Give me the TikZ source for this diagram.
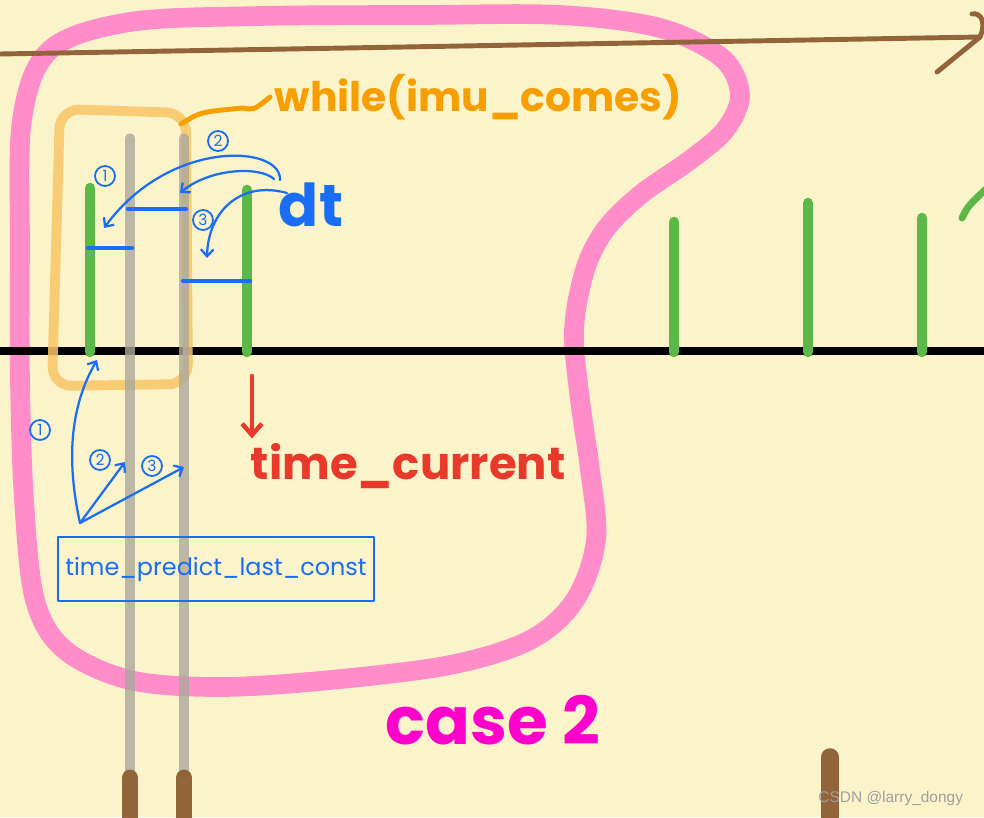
\documentclass[tikz,border=0pt]{standalone}
\usepackage{fontspec}
\newfontfamily\handfont{Poppins}
\newfontfamily\markfont{Liberation Sans}
\usetikzlibrary{arrows.meta}
\definecolor{paper}{HTML}{FBF4CB}
\definecolor{pinkloop}{HTML}{FF8DC9}
\definecolor{brownax}{HTML}{93643A}
\definecolor{greentick}{HTML}{5DB947}
\definecolor{grayline}{HTML}{ABA89B}
\definecolor{orangebox}{HTML}{F8C566}
\definecolor{orangetxt}{HTML}{F79E00}
\definecolor{bluepen}{HTML}{1A6EF5}
\definecolor{redpen}{HTML}{E8392A}
\definecolor{casepink}{HTML}{FF00CC}

\begin{document}
\begin{tikzpicture}[x=0.025cm, y=-0.025cm, line join=round, line cap=round,
	>={Straight Barb[length=5pt, width=9pt]},
	tick/.style={color=greentick, line width=7.5pt},
	guide/.style={color=grayline, line width=6.6pt, opacity=0.8},
	pen/.style={color=bluepen, line width=1.6pt},
	numcirc/.style={draw=bluepen, line width=1.3pt, circle, inner sep=0pt, minimum size=0.5cm, text=bluepen, font=\handfont\fontsize{11}{11}\selectfont}]
	\fill[paper] (0,0) rectangle (984,817);
	\useasboundingbox (0,0) rectangle (984,817);
	\draw[pinkloop, line width=14pt] plot[smooth cycle, tension=0.55] coordinates {(50,50) (130,22) (260,16) (420,15) (560,15) (660,28) (722,58) (740,95) (725,130) (690,160) (640,195) (605,230) (585,270) (574,330) (580,400) (590,470) (596,540) (575,600) (530,640) (450,665) (330,680) (220,687) (130,680) (65,650) (35,600) (24,500) (20,380) (20,250) (22,120)};
	\draw[brownax, line width=3.5pt] (0,54) -- (980,37) coordinate (axend);
	\draw[brownax, line width=3.5pt] (937,72) -- (axend) .. controls (986,24) and (982,12) .. (972,14);
	\draw[line width=5.7pt] (0,351) -- (984,351);
	\foreach \x/\top in {90/188, 247/190, 674/222, 808/203, 922/218} \draw[tick] (\x,352) -- (\x,\top);
	\draw[greentick, line width=5pt] (962,218) .. controls (968,206) .. (986,189);
	\draw[orangebox, line width=7pt, opacity=0.85, rounded corners=14pt] (60,109) -- (186,113) -- (188,384) -- (52,386) -- cycle;
	\foreach \x in {130,184} {
		\draw[guide] (\x,138) -- (\x,776);
		\draw[brownax, line width=12pt] (\x,778) -- (\x,830);
	}
	\draw[brownax, line width=12.5pt] (830,757) -- (830,830);
	% while loop
	\node[text=orangetxt, font=\handfont\bfseries\fontsize{29}{29}\selectfont, anchor=west] (loop) at (270,97) {while(imu\_comes)};
	\coordinate (boxtop) at (181,124);
	\draw[orangetxt, line width=3.5pt] (boxtop) .. controls (200,112) .. (243,108) .. controls (254,110) .. (loop.west);
	% dt
	\draw[bluepen, line width=3pt] (88,248) -- (132,248);
	\draw[bluepen, line width=3pt] (128,209) -- (186,209);
	\draw[bluepen, line width=3pt] (183,281) -- (250,281);
	\node[text=bluepen, font=\handfont\bfseries\fontsize{42}{42}\selectfont] (dt) at (311,205) {dt};
	\coordinate (dta) at (280,180);
	\coordinate (dtb) at (274,179);
	\coordinate (dtc) at (287,193);
	\coordinate (end1) at (104,228);
	\coordinate (end2) at (180,193);
	\coordinate (end3) at (207,258);
	\draw[pen,->] (dta) .. controls (282,145) and (170,138) .. (end1);
	\draw[pen,->] (dtb) .. controls (260,166) and (210,168) .. (end2);
	\draw[pen,->] (dtc) .. controls (240,180) and (208,212) .. (end3);
	\node[numcirc] (t1) at (105,176) {1};
	\node[numcirc] (t2) at (218,141) {2};
	\node[numcirc] (t3) at (203,220) {3};
	% last const
	\node[draw=bluepen, line width=1.5pt, text=bluepen, minimum width=7.9cm, minimum height=1.6cm, inner sep=0pt, font=\handfont\fontsize{17}{17}\selectfont] (last) at (216,569) {time\_predict\_last\_const};
	\coordinate (src) at (80,523);
	\coordinate (hit1) at (97,360);
	\coordinate (hit2) at (125,462);
	\coordinate (hit3) at (184,467);
	\draw[pen,->] (src) .. controls (64,450) and (74,400) .. (hit1);
	\draw[pen,->] (src) -- (hit2);
	\draw[pen,->] (src) -- (hit3);
	\node[numcirc] (b1) at (40,430) {1};
	\node[numcirc] (b2) at (100,460) {2};
	\node[numcirc] (b3) at (152,466) {3};
	% current
	\node[text=redpen, font=\handfont\bfseries\fontsize{32}{32}\selectfont, anchor=west] (cur) at (246,466) {time\_current};
	\coordinate (curtop) at (252,376);
	\draw[redpen, line width=3.2pt, -{Straight Barb[length=8pt, width=14pt]}] (curtop) -- (cur.north west -| curtop);
	\node[text=casepink, font=\handfont\bfseries\fontsize{47}{47}\selectfont] (case) at (493,720) {case 2};
	\node[text=gray!75!white, font=\markfont\fontsize{11}{11}\selectfont, anchor=east] (mark) at (968,798) {CSDN @larry\_dongy};
\end{tikzpicture}
\end{document}
